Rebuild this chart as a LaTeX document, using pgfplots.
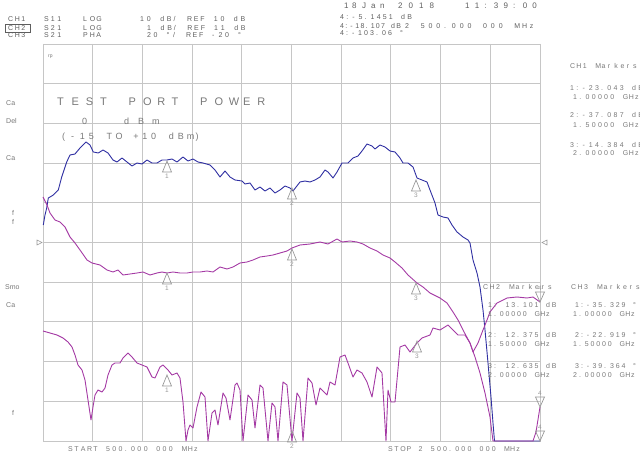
\documentclass[border=0pt]{standalone}
\usepackage{pgfplots}
\pgfplotsset{compat=1.18}
\usepackage{fontspec}
\setmainfont{Liberation Sans}
\definecolor{gridc}{HTML}{C6C6C6}
\definecolor{blu}{HTML}{3030A2}
\definecolor{mag}{HTML}{A43AA4}
\definecolor{txt}{HTML}{787878}
\definecolor{txtd}{HTML}{5E5E5E}
\definecolor{mk}{HTML}{989898}
\makeatletter
\newcommand\mono[2]{\def\mpitch{#1}\@tfor\@c:=#2\do{\makebox[\mpitch][l]{\@c}}}
\makeatother
\pgfdeclareplotmark{utri}{\pgfpathmoveto{\pgfpointorigin}\pgfpathlineto{\pgfqpoint{-4.5pt}{-11pt}}\pgfpathlineto{\pgfqpoint{4.5pt}{-11pt}}\pgfpathclose\pgfusepathqstroke}
\pgfdeclareplotmark{dtri}{\pgfpathmoveto{\pgfpointorigin}\pgfpathlineto{\pgfqpoint{-4.5pt}{10pt}}\pgfpathlineto{\pgfqpoint{4.5pt}{10pt}}\pgfpathclose\pgfusepathqstroke}
\pgfdeclareplotmark{rtri}{\pgfpathmoveto{\pgfpointorigin}\pgfpathlineto{\pgfqpoint{-5pt}{2.5pt}}\pgfpathlineto{\pgfqpoint{-5pt}{-2.5pt}}\pgfpathclose\pgfusepathqstroke}
\pgfdeclareplotmark{ltri}{\pgfpathmoveto{\pgfpointorigin}\pgfpathlineto{\pgfqpoint{5pt}{2.5pt}}\pgfpathlineto{\pgfqpoint{5pt}{-2.5pt}}\pgfpathclose\pgfusepathqstroke}
\tikzset{
  t/.style={anchor=west, inner sep=0pt, text=txt, font=\fontsize{7}{8}\selectfont},
  td/.style={anchor=west, inner sep=0pt, text=txtd, font=\fontsize{7}{8}\selectfont},
}
\begin{document}
\begin{tikzpicture}
\path[use as bounding box] (0,0) rectangle (640pt,457pt);
\begin{axis}[
  at={(291.5pt,214.5pt)}, anchor=center,
  scale only axis, width=497pt, height=397pt,
  xmin=43, xmax=540, ymin=44, ymax=441, y dir=reverse,
  xtick={43,92.7,142.4,192.1,241.8,291.5,341.2,390.9,440.6,490.3,540},
  ytick={44,83.7,123.4,163.1,202.8,242.5,282.2,321.9,361.6,401.3,441},
  xticklabels={}, yticklabels={}, major tick length=0pt,
  tick style={draw=none},
  grid=major, grid style={gridc, line width=0.9pt},
  axis line style={gridc, line width=0.9pt},
  clip=false,
]
% CH1 (blue)
\addplot[blu, line width=0.9pt, line join=round] coordinates {
(43.3,225)(45,215)(46.7,208)(48.3,198)(53.3,195)(58.3,190)(61.7,177)(66.7,162)(70,155)(75,154)(80,148)(86,142)(90,145)(93.3,152)(98.3,153)(103,150)(108,153)(113,160)(117,162)(122,158)(127,162)(132,166)(137,163)(142,164)(147,160)(152,163)(157,163)(162,160)(167,160)(172,159)(177,162)(183,157)(188,161)(193,159)(198,162)(203,163)(210,165)(215,170)(220,177)(225,171)(230,177)(235,180)(242,181)(245,184)(250,183)(255,190)(260,187)(265,191)(270,188)(275,193)(280,190)(285,186)(290,188)(293,191)(300,182)(305,181)(310,182)(315,180)(320,177)(325,170)(328,172)(333,178)(337,172)(342,163)(348,163)(353,158)(358,156)(362,151)(367,144)(372,146)(375,149)(380,145)(385,147)(390,151)(395,152)(400,158)(403,163)(408,163)(413,167)(417,178)(422,180)(427,182)(430,190)(435,203)(438,215)(443,217)(448,218)(452,225)(457,232)(463,237)(468,240)(470,243)(473,260)(477,273)(480,287)(483,310)(485,330)(488,363)(491,397)(493,423)(494.5,441)(540,441)
};
% CH2 (upper magenta)
\addplot[mag, line width=0.9pt, line join=round] coordinates {
(43,197)(47,205)(50,213)(55,220)(60,222)(65,227)(70,237)(75,243)(80,250)(87,260)(92,263)(100,265)(107,270)(113,272)(118,270)(123,275)(130,274)(137,273)(143,272)(150,275)(157,273)(162,272)(167,273)(173,272)(180,273)(187,273)(193,272)(200,272)(207,271)(213,272)(220,267)(227,269)(233,267)(240,263)(247,262)(253,260)(260,257)(267,256)(273,255)(280,253)(287,251)(292,248)(300,245)(310,244)(320,242)(328,244)(337,239)(342,242)(350,241)(357,242)(363,244)(370,248)(377,251)(383,255)(390,258)(395,262)(402,268)(408,275)(417,283)(423,287)(430,293)(440,298)(447,303)(453,312)(458,320)(463,330)(470,343)(475,357)(480,373)(485,393)(490,417)(493,441)(533,441)(536,432)(540,407)
};
% CH3 (lower magenta)
\addplot[mag, line width=0.9pt, line join=round] coordinates {
(43,331)(50,333)(57,335)(63,338)(68,342)(72,347)(75,355)(78,365)(82,370)(85,380)(88,400)(91,420)(93,407)(95,395)(98,390)(102,392)(105,388)(108,375)(112,365)(115,363)(120,363)(123,358)(128,353)(132,357)(137,363)(142,365)(147,367)(152,377)(155,378)(160,367)(163,365)(168,370)(172,375)(177,373)(180,378)(183,402)(186,441)(188,430)(190,425)(193,428)(197,407)(201,392)(205,397)(208,441)(212,413)(215,410)(218,425)(223,393)(226,398)(230,420)(235,385)(237,383)(240,390)(243,441)(248,395)(252,400)(255,428)(260,385)(263,388)(268,441)(272,403)(275,407)(278,441)(283,382)(287,385)(292,441)(297,393)(300,398)(303,441)(308,378)(312,383)(316,405)(320,388)(323,391)(327,395)(330,382)(335,385)(340,357)(345,355)(348,363)(353,377)(357,370)(362,373)(367,382)(372,397)(377,367)(382,373)(386,441)(388,390)(391,402)(395,402)(400,347)(405,345)(410,352)(417,343)(422,338)(430,335)(433,328)(440,330)(448,325)(453,330)(458,335)(465,335)(470,343)(473,352)(478,343)(483,330)(487,320)(490,312)(497,303)(507,298)(517,297)(527,298)(533,297)(540,302)
};
% markers 1-3
\addplot[only marks, mark=utri, mk, mark options={line width=0.7pt},
  nodes near coords, point meta=explicit symbolic,
  every node near coord/.append style={anchor=center, yshift=-15pt, font=\fontsize{6.5}{7}\selectfont, text=mk}]
  coordinates {(167,161)[1] (292,188)[2] (416,180)[3] (167,273)[1] (292,249)[2] (416,283)[3] (167,375)[1] (292,431)[2] (417,341)[3]};
% markers 4
\addplot[only marks, mark=dtri, mk, mark options={line width=0.7pt},
  nodes near coords, point meta=explicit symbolic,
  every node near coord/.append style={anchor=center, yshift=14pt, font=\fontsize{6.5}{7}\selectfont, text=mk}]
  coordinates {(540,302)[4] (540,407)[4] (540,441)[4]};
% reference position arrows
\addplot[only marks, mark=rtri, mk, mark options={line width=0.6pt}] coordinates {(42,242.5)};
\addplot[only marks, mark=ltri, mk, mark options={line width=0.6pt}] coordinates {(542,242.5)};

% header
\node[td] at (8,19) {\mono{6.6pt}{CH1}};
\node[td] at (44,19) {\mono{6.6pt}{S11}};
\node[td] at (83,19) {\mono{6.6pt}{LOG}};
\node[td] at (140,19) {\mono{6.7pt}{10~dB/~REF~10~dB}};
\node[td] at (8,28) {\mono{6.6pt}{CH2}};
\draw[txtd, line width=0.6pt] (5.5,24.5) rectangle (30.5,32.5);
\node[td] at (44,28) {\mono{6.6pt}{S21}};
\node[td] at (83,28) {\mono{6.6pt}{LOG}};
\node[td] at (147,28) {\mono{6.7pt}{1~dB/~REF~11~dB}};
\node[td] at (8,35.5) {\mono{6.6pt}{CH3}};
\node[td] at (44,35.5) {\mono{6.6pt}{S21}};
\node[td] at (83,35.5) {\mono{6.6pt}{PHA}};
\node[td] at (147,35.5) {\mono{6.5pt}{20~°/~REF~-20~°}};
% date and marker 4 readouts
\node[td, font=\fontsize{8}{9}\selectfont] at (344,6) {\mono{8pt}{18}};
\node[td, font=\fontsize{8}{9}\selectfont] at (362,6) {\mono{9pt}{Jan}};
\node[td, font=\fontsize{8}{9}\selectfont] at (398,6) {\mono{10.5pt}{2018}};
\node[td, font=\fontsize{8}{9}\selectfont] at (465,6) {\mono{9.6pt}{11:39:00}};
\node[td] at (340,17.3) {\mono{6.1pt}{4:-5.1451~dB}};
\node[td] at (340,26) {\mono{5.1pt}{4:-18.107~dB}};
\node[td] at (405,26) {\mono{7.8pt}{2~500.000~000~MHz}};
\node[td] at (340,33.3) {\mono{6pt}{4:-103.06~°}};
% left clipped labels
\node[t] at (6,103) {Ca};
\node[t] at (6,121) {Del};
\node[t] at (6,158) {Ca};
\node[t] at (12,213) {f};
\node[t] at (12,222) {f};
\node[t] at (5,287) {Smo};
\node[t] at (6,305) {Ca};
\node[t] at (12,413) {f};
\node[t, font=\fontsize{5}{6}\selectfont] at (48,57) {rp};
% test port power
\node[t, font=\fontsize{11}{12}\selectfont] at (57,102) {\mono{14.3pt}{TEST~PORT~POWER}};
\node[t, font=\fontsize{9}{10}\selectfont] at (82,121) {\mono{14pt}{0~~dBm}};
\node[t, font=\fontsize{9}{10}\selectfont] at (62,137) {\mono{8.9pt}{(-15~TO~+10~dBm)}};
% CH1 markers
\node[t] at (570,66) {\mono{6.3pt}{CH1~Markers}};
\node[t] at (570,88) {\mono{6.2pt}{1:-23.043~dB}};
\node[t] at (573,97) {\mono{6.2pt}{1.00000~GHz}};
\node[t] at (570,115) {\mono{6.2pt}{2:-37.087~dB}};
\node[t] at (573,125) {\mono{6.2pt}{1.50000~GHz}};
\node[t] at (570,145) {\mono{6.2pt}{3:-14.384~dB}};
\node[t] at (573,153) {\mono{6.2pt}{2.00000~GHz}};
% CH2 markers
\node[t] at (483,287) {\mono{6.5pt}{CH2~Markers}};
\node[t] at (488,305) {\mono{5.8pt}{1:~13.101~dB}};
\node[t] at (488,314) {\mono{5.8pt}{1.00000~GHz}};
\node[t] at (488,335) {\mono{5.8pt}{2:~12.375~dB}};
\node[t] at (488,344) {\mono{5.8pt}{1.50000~GHz}};
\node[t] at (488,366) {\mono{5.8pt}{3:~12.635~dB}};
\node[t] at (488,375) {\mono{5.8pt}{2.00000~GHz}};
% CH3 markers
\node[t] at (571,287) {\mono{6.5pt}{CH3~Markers}};
\node[t] at (575,305) {\mono{5.8pt}{1:-35.329~°}};
\node[t] at (573,314) {\mono{5.8pt}{1.00000~GHz}};
\node[t] at (575,335) {\mono{5.8pt}{2:-22.919~°}};
\node[t] at (573,344) {\mono{5.8pt}{1.50000~GHz}};
\node[t] at (575,366) {\mono{5.8pt}{3:-39.364~°}};
\node[t] at (573,375) {\mono{5.8pt}{2.00000~GHz}};
% start / stop
\node[t] at (68,449.5) {\mono{6.3pt}{START~500.000~000~MHz}};
\node[t] at (388,449.5) {\mono{6.1pt}{STOP~2~500.000~000~MHz}};
\end{axis}
\end{tikzpicture}
\end{document}
